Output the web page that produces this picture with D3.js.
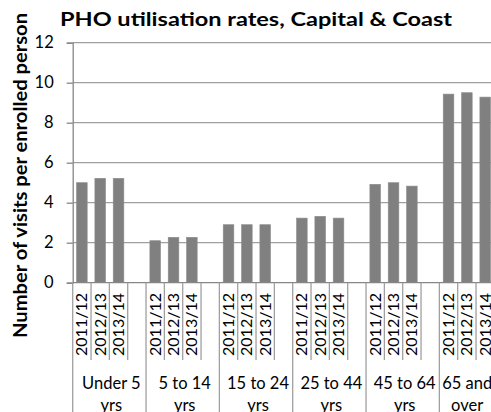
<!DOCTYPE html>
<html>
<head>
<meta charset="utf-8">
<script src="https://cdn.jsdelivr.net/npm/d3@7"></script>
<style>
  body { margin: 0; background: #fff; }
  svg { display: block; font-family: Lato, "Open Sans", sans-serif; }
</style>
</head>
<body>
<svg id="chart"></svg>
<script>
const width = 491, height = 412;

// data
const groups = [["Under 5", "yrs"], ["5 to 14", "yrs"], ["15 to 24", "yrs"],
                ["25 to 44", "yrs"], ["45 to 64", "yrs"], ["65 and", "over"]];
const years = ["2011/12", "2012/13", "2013/14"];
const under5 = [5.0, 5.22, 5.22];
const age5to14 = [2.1, 2.27, 2.27];
const age15to24 = [2.9, 2.9, 2.9];
const age25to44 = [3.23, 3.32, 3.23];
const age45to64 = [4.92, 5.0, 4.83];
const age65plus = [9.43, 9.5, 9.28];
const series = [under5, age5to14, age15to24, age25to44, age45to64, age65plus];
const yTicks = [0, 2, 4, 6, 8, 10, 12];

// each group gets its 3 years plus one empty slot
const slots = [];
groups.forEach((g, gi) => {
  years.forEach((y, yi) => slots.push({ key: gi + "-" + yi, group: gi, year: y, value: series[gi][yi] }));
  slots.push({ key: gi + "-gap", group: gi, year: "", value: null });
});

const svg = d3.select("#chart").attr("width", width).attr("height", height);

const plotLeft = 72.7, plotRight = 512.7, plotTop = 42.7, plotBottom = 282.7;
const level1Bottom = 360;

const x = d3.scaleBand()
  .domain(slots.map(d => d.key))
  .range([plotLeft, plotRight])
  .paddingInner(0.42)
  .paddingOuter(0.21);
const step = x.step();

const y = d3.scaleLinear().domain([0, 12]).range([plotBottom, plotTop]);

// gridlines
svg.append("g")
  .selectAll("line")
  .data(yTicks.filter(t => t > 0))
  .enter()
  .append("line")
  .attr("x1", plotLeft)
  .attr("x2", width)
  .attr("y1", d => y(d))
  .attr("y2", d => y(d))
  .attr("stroke", "#a0a0a0")
  .attr("stroke-width", 1.3);

// y axis
const yAxis = svg.append("g")
  .attr("transform", `translate(${plotLeft},0)`)
  .call(d3.axisLeft(y).tickValues(yTicks).tickSize(6).tickPadding(13));
yAxis.select(".domain").attr("stroke", "#868686").attr("stroke-width", 1.3);
yAxis.selectAll(".tick line").attr("stroke", "#868686").attr("stroke-width", 1.3);
yAxis.selectAll(".tick text")
  .attr("font-size", "16.5px")
  .attr("fill", "#000")
  .attr("font-family", "Lato, sans-serif");

// bars
svg.append("g")
  .selectAll("rect")
  .data(slots.filter(d => d.value != null))
  .enter()
  .append("rect")
  .attr("x", d => x(d.key))
  .attr("y", d => y(d.value))
  .attr("width", x.bandwidth())
  .attr("height", d => y(0) - y(d.value))
  .attr("fill", "#808080")
  .attr("stroke", "#8c8c8c")
  .attr("stroke-width", 0.6);

// category axis line
svg.append("line")
  .attr("x1", plotLeft).attr("x2", width)
  .attr("y1", plotBottom).attr("y2", plotBottom)
  .attr("stroke", "#868686").attr("stroke-width", 1.3);

// separators: every slot boundary through the year row, group boundaries to the bottom
const bounds = d3.range(slots.length + 1).map(i => ({ x: plotLeft + i * step, group: i % 4 === 0 }));
svg.append("g")
  .selectAll("line")
  .data(bounds)
  .enter()
  .append("line")
  .attr("x1", d => d.x).attr("x2", d => d.x)
  .attr("y1", plotBottom)
  .attr("y2", d => d.group ? height : level1Bottom)
  .attr("stroke", "#a0a0a0")
  .attr("stroke-width", 1.3);

// year labels, rotated
svg.append("g")
  .selectAll("text")
  .data(slots.filter(d => d.year))
  .enter()
  .append("text")
  .attr("transform", d => `translate(${x(d.key) + x.bandwidth() / 2 + 5.5},${324.5}) rotate(-90)`)
  .attr("text-anchor", "middle")
  .attr("font-size", "16px")
  .text(d => d.year);

// group labels, centred in the visible part of each group
const groupLabels = svg.append("g")
  .selectAll("text")
  .data(groups)
  .enter()
  .append("text")
  .attr("text-anchor", "middle")
  .attr("font-size", "16.5px")
  .attr("x", (d, i) => {
    const x0 = plotLeft + i * 4 * step, x1 = Math.min(plotLeft + (i + 1) * 4 * step, width);
    return (x0 + x1) / 2 + 2;
  })
  .attr("y", 389);
groupLabels.append("tspan").text(d => d[0]);
groupLabels.append("tspan")
  .attr("x", function() { return d3.select(this.parentNode).attr("x"); })
  .attr("dy", 22)
  .text(d => d[1]);

// title (the reference is stretched sideways, so fit its width)
svg.append("text")
  .attr("x", 60)
  .attr("y", 26)
  .attr("font-size", "19px")
  .attr("font-weight", "bold")
  .attr("textLength", 392)
  .attr("lengthAdjust", "spacingAndGlyphs")
  .text("PHO utilisation rates, Capital & Coast");

// y axis title
svg.append("text")
  .attr("transform", `translate(27,${175.5}) rotate(-90)`)
  .attr("text-anchor", "middle")
  .attr("font-size", "18px")
  .attr("font-weight", "bold")
  .attr("textLength", 325)
  .attr("lengthAdjust", "spacingAndGlyphs")
  .text("Number of visits per enrolled person");
</script>
</body>
</html>
